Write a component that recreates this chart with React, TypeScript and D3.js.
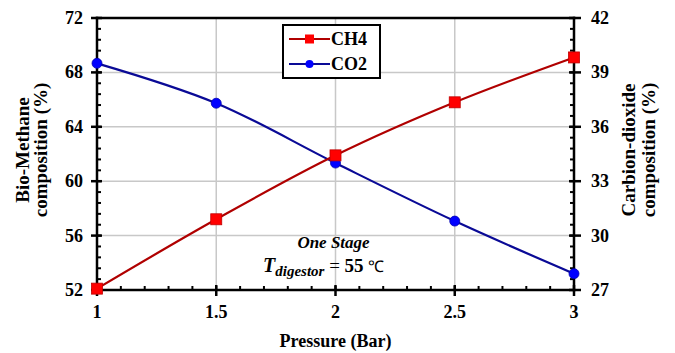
import { useEffect, useRef } from "react";
import * as d3 from "d3";

// pressure values (Bar)
const pressure = [1, 1.5, 2, 2.5, 3];
// bio-methane composition (%), left axis
const ch4 = [52.1, 57.2, 61.9, 65.8, 69.1];
// carbon dioxide composition (%), right axis
const co2 = [39.5, 37.3, 34.0, 30.8, 27.9];

const xTicks = [1, 1.5, 2, 2.5, 3];
const leftTicks = [52, 56, 60, 64, 68, 72];
const rightTicks = [27, 30, 33, 36, 39, 42];

const FONT = "Liberation Serif";

export default function App() {
    const svgRef = useRef<SVGSVGElement>(null);

    useEffect(() => {
        const width = 675,
            height = 353;
        const margin = { top: 18, right: 101, bottom: 63, left: 97 };
        const w = width - margin.left - margin.right;
        const h = height - margin.top - margin.bottom;

        const svg = d3.select(svgRef.current);
        svg.selectAll("*").remove();

        const g = svg
            .append("g")
            .attr("transform", `translate(${margin.left},${margin.top})`);

        const x = d3.scaleLinear().domain([1, 3]).range([0, w]);
        const yL = d3.scaleLinear().domain([52, 72]).range([h, 0]);
        const yR = d3.scaleLinear().domain([27, 42]).range([h, 0]);

        // grid
        g.append("g")
            .selectAll("line")
            .data(xTicks.slice(1, -1))
            .enter()
            .append("line")
            .attr("x1", (d) => x(d))
            .attr("x2", (d) => x(d))
            .attr("y1", 0)
            .attr("y2", h)
            .attr("stroke", "#c8c8c8")
            .attr("stroke-width", 1.5);
        g.append("g")
            .selectAll("line")
            .data(leftTicks.slice(1, -1))
            .enter()
            .append("line")
            .attr("x1", 0)
            .attr("x2", w)
            .attr("y1", (d) => yL(d))
            .attr("y2", (d) => yL(d))
            .attr("stroke", "#c8c8c8")
            .attr("stroke-width", 1.5);

        // minor ticks
        const minorX = d3.range(1, 3.0001, 0.1);
        g.append("g")
            .selectAll("line")
            .data(minorX)
            .enter()
            .append("line")
            .attr("x1", (d) => x(d))
            .attr("x2", (d) => x(d))
            .attr("y1", h)
            .attr("y2", h - 4)
            .attr("stroke", "#000")
            .attr("stroke-width", 2);
        const minorL = d3.range(52, 72.0001, 0.8);
        g.append("g")
            .selectAll("line")
            .data(minorL)
            .enter()
            .append("line")
            .attr("x1", 0)
            .attr("x2", 4)
            .attr("y1", (d) => yL(d))
            .attr("y2", (d) => yL(d))
            .attr("stroke", "#000")
            .attr("stroke-width", 2);
        const minorR = d3.range(27, 42.0001, 0.6);
        g.append("g")
            .selectAll("line")
            .data(minorR)
            .enter()
            .append("line")
            .attr("x1", w)
            .attr("x2", w - 4)
            .attr("y1", (d) => yR(d))
            .attr("y2", (d) => yR(d))
            .attr("stroke", "#000")
            .attr("stroke-width", 2);

        // major ticks
        g.append("g")
            .selectAll("line")
            .data(xTicks)
            .enter()
            .append("line")
            .attr("x1", (d) => x(d))
            .attr("x2", (d) => x(d))
            .attr("y1", h - 5)
            .attr("y2", h + 6)
            .attr("stroke", "#000")
            .attr("stroke-width", 2.5);
        g.append("g")
            .selectAll("line")
            .data(leftTicks)
            .enter()
            .append("line")
            .attr("x1", -6)
            .attr("x2", 5)
            .attr("y1", (d) => yL(d))
            .attr("y2", (d) => yL(d))
            .attr("stroke", "#000")
            .attr("stroke-width", 2.5);
        g.append("g")
            .selectAll("line")
            .data(rightTicks)
            .enter()
            .append("line")
            .attr("x1", w - 5)
            .attr("x2", w + 7)
            .attr("y1", (d) => yR(d))
            .attr("y2", (d) => yR(d))
            .attr("stroke", "#000")
            .attr("stroke-width", 2.5);

        // frame
        const frame = [
            [0, 0, w, 0],
            [0, 0, 0, h],
            [w, 0, w, h],
            [0, h, w, h],
        ];
        g.append("g")
            .selectAll("line")
            .data(frame)
            .enter()
            .append("line")
            .attr("x1", (d) => d[0])
            .attr("y1", (d) => d[1])
            .attr("x2", (d) => d[2])
            .attr("y2", (d) => d[3])
            .attr("stroke", "#000")
            .attr("stroke-width", 2.5)
            .attr("stroke-linecap", "square");

        // tick labels
        g.append("g")
            .selectAll("text")
            .data(xTicks)
            .enter()
            .append("text")
            .attr("x", (d) => x(d))
            .attr("y", h + 28)
            .attr("text-anchor", "middle")
            .attr("font-family", FONT)
            .attr("font-weight", "bold")
            .attr("font-size", 18)
            .text((d) => String(d));
        g.append("g")
            .selectAll("text")
            .data(leftTicks)
            .enter()
            .append("text")
            .attr("x", -14)
            .attr("y", (d) => yL(d) + 6)
            .attr("text-anchor", "end")
            .attr("font-family", FONT)
            .attr("font-weight", "bold")
            .attr("font-size", 18)
            .text((d) => String(d));
        g.append("g")
            .selectAll("text")
            .data(rightTicks)
            .enter()
            .append("text")
            .attr("x", w + 17)
            .attr("y", (d) => yR(d) + 6)
            .attr("text-anchor", "start")
            .attr("font-family", FONT)
            .attr("font-weight", "bold")
            .attr("font-size", 18)
            .text((d) => String(d));

        // axis titles
        g.append("text")
            .attr("x", w / 2)
            .attr("y", h + 57)
            .attr("text-anchor", "middle")
            .attr("font-family", FONT)
            .attr("font-weight", "bold")
            .attr("font-size", 18)
            .text("Pressure (Bar)");

        const titleLines = (
            cx: number,
            lines: string[],
            gap: number,
        ) => {
            lines.forEach((s, i) => {
                g.append("text")
                    .attr("transform", `translate(${cx + i * gap},${h / 2 - 4}) rotate(-90)`)
                    .attr("text-anchor", "middle")
                    .attr("font-family", FONT)
                    .attr("font-weight", "bold")
                    .attr("font-size", 19)
                    .text(s);
            });
        };
        titleLines(-68, ["Bio-Methane", "composition (%)"], 18);
        titleLines(w + 61, ["Carbion-dioxide", "composition (%)"], 20);

        // lines
        const ch4Line = d3
            .line<number>()
            .x((_, i) => x(pressure[i]))
            .y((d) => yL(d))
            .curve(d3.curveCatmullRom);
        const co2Line = d3
            .line<number>()
            .x((_, i) => x(pressure[i]))
            .y((d) => yR(d))
            .curve(d3.curveCatmullRom);

        g.append("path")
            .attr("d", co2Line(co2))
            .attr("fill", "none")
            .attr("stroke", "#0a0a96")
            .attr("stroke-width", 2.2);
        g.append("path")
            .attr("d", ch4Line(ch4))
            .attr("fill", "none")
            .attr("stroke", "#b00000")
            .attr("stroke-width", 2.2);

        g.append("g")
            .selectAll("circle")
            .data(co2)
            .enter()
            .append("circle")
            .attr("cx", (_, i) => x(pressure[i]))
            .attr("cy", (d) => yR(d))
            .attr("r", 5)
            .attr("fill", "#0000ff")
            .attr("stroke", "#0000b0")
            .attr("stroke-width", 0.8);
        g.append("g")
            .selectAll("rect")
            .data(ch4)
            .enter()
            .append("rect")
            .attr("x", (_, i) => x(pressure[i]) - 5.5)
            .attr("y", (d) => yL(d) - 5.5)
            .attr("width", 11)
            .attr("height", 11)
            .attr("fill", "#ff0000")
            .attr("stroke", "#c00000")
            .attr("stroke-width", 0.8);

        // legend
        const lg = svg.append("g").attr("transform", "translate(283,25)");
        lg.append("rect")
            .attr("width", 97)
            .attr("height", 53)
            .attr("fill", "#fff")
            .attr("stroke", "#000")
            .attr("stroke-width", 2);
        const items = [
            { name: "CH4", color: "#b00000", fill: "#ff0000", shape: "square", y: 14 },
            { name: "CO2", color: "#0a0a96", fill: "#0000ff", shape: "circle", y: 39 },
        ];
        items.forEach((it) => {
            lg.append("line")
                .attr("x1", 6)
                .attr("x2", 47)
                .attr("y1", it.y)
                .attr("y2", it.y)
                .attr("stroke", it.color)
                .attr("stroke-width", 2);
            if (it.shape === "square") {
                lg.append("rect")
                    .attr("x", 22)
                    .attr("y", it.y - 4.5)
                    .attr("width", 9)
                    .attr("height", 9)
                    .attr("fill", it.fill);
            } else {
                lg.append("circle")
                    .attr("cx", 26.5)
                    .attr("cy", it.y)
                    .attr("r", 4)
                    .attr("fill", it.fill);
            }
            lg.append("text")
                .attr("x", 48)
                .attr("y", it.y + 6)
                .attr("font-family", FONT)
                .attr("font-weight", "bold")
                .attr("font-size", 18)
                .text(it.name);
        });

        // annotation
        g.append("text")
            .attr("x", x(2) - 2)
            .attr("y", 230)
            .attr("text-anchor", "middle")
            .attr("font-family", FONT)
            .attr("font-weight", "bold")
            .attr("font-style", "italic")
            .attr("font-size", 17)
            .text("One Stage");
        const t = g
            .append("text")
            .attr("x", 166)
            .attr("y", 254)
            .attr("font-family", FONT)
            .attr("font-size", 19);
        t.append("tspan")
            .attr("font-weight", "bold")
            .attr("font-style", "italic")
            .attr("font-size", 20)
            .text("T");
        t.append("tspan")
            .attr("dy", 4)
            .attr("font-weight", "bold")
            .attr("font-style", "italic")
            .attr("font-size", 15)
            .text("digestor");
        t.append("tspan").attr("dy", -4).text(" = ");
        t.append("tspan").attr("font-weight", "bold").text("55");
        t.append("tspan").attr("font-size", 16).text(" \u2103");
    }, []);

    return (
        <svg
            ref={svgRef}
            width={675}
            height={353}
            style={{ position: "absolute", left: 0, top: 0, background: "#fff" }}
        />
    );
}
